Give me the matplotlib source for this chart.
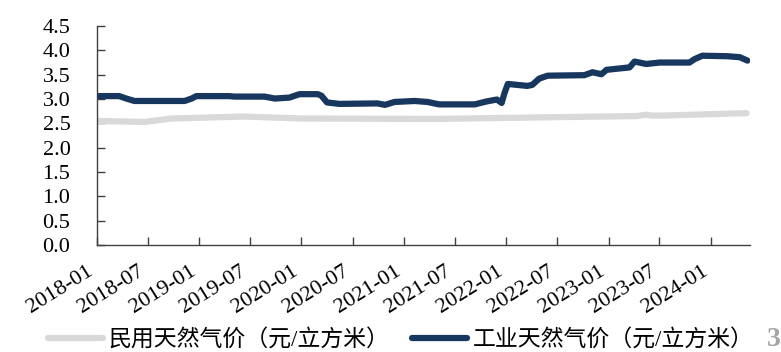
import numpy as np
import pandas as pd
import matplotlib
matplotlib.use('Agg')
import matplotlib.pyplot as plt
import matplotlib.dates as mdates

# 民用天然气价 (residential gas price)
RES_DATES = ['2018-01-01', '2018-06-20', '2018-09-25', '2019-06-10', '2020-01-01',
             '2021-04-20', '2022-03-25', '2023-04-10', '2023-05-18', '2023-05-30',
             '2023-07-12', '2024-05-07']
RES_VALUES = [2.55, 2.53, 2.60, 2.64, 2.60,
              2.59, 2.62, 2.65, 2.68, 2.66,
              2.66, 2.71]

# 工业天然气价 (industrial gas price)
IND_DATES = ['2018-01-01', '2018-03-22', '2018-04-16', '2018-05-15', '2018-11-10',
             '2018-12-05', '2018-12-22', '2019-04-18', '2019-05-06', '2019-08-22',
             '2019-09-28', '2019-11-19', '2019-12-25', '2020-02-28', '2020-03-12',
             '2020-04-01', '2020-05-15', '2020-09-28', '2020-10-25', '2020-11-28',
             '2021-02-08', '2021-03-25', '2021-05-06', '2021-09-10', '2021-10-22',
             '2021-11-28', '2021-12-15', '2021-12-25', '2022-01-06', '2022-03-16',
             '2022-04-03', '2022-04-28', '2022-05-28', '2022-10-06', '2022-11-04',
             '2022-12-06', '2022-12-24', '2023-03-16', '2023-04-03', '2023-05-15',
             '2023-07-01', '2023-10-16', '2023-11-03', '2023-12-01', '2024-02-27',
             '2024-04-12', '2024-05-10']
IND_VALUES = [3.06, 3.06, 3.01, 2.96, 2.96,
              3.01, 3.06, 3.06, 3.05, 3.05,
              3.01, 3.03, 3.10, 3.10, 3.07,
              2.93, 2.90, 2.91, 2.88, 2.94,
              2.96, 2.94, 2.89, 2.89, 2.95,
              2.99, 2.92, 3.12, 3.31, 3.27,
              3.29, 3.42, 3.48, 3.49, 3.55,
              3.51, 3.60, 3.65, 3.77, 3.72,
              3.75, 3.75, 3.82, 3.89, 3.88,
              3.86, 3.79]

SERIES_NAMES = ['民用天然气价（元/立方米）', '工业天然气价（元/立方米）']
COLORS = {'res': '#D9D9D9', 'ind': '#17375E'}
YTICKS = [0.0, 0.5, 1.0, 1.5, 2.0, 2.5, 3.0, 3.5, 4.0, 4.5]

plt.rcParams['font.family'] = ['Liberation Serif', 'Noto Sans CJK SC', 'DejaVu Sans']


def main():
    fig = plt.figure(figsize=(7.81, 3.52), dpi=100)
    ax = fig.add_axes([0.124, 0.304, 0.836, 0.622])

    ax.plot(pd.to_datetime(RES_DATES), RES_VALUES, color=COLORS['res'], linewidth=4.5,
            solid_capstyle='round', solid_joinstyle='round', label=SERIES_NAMES[0])
    ax.plot(pd.to_datetime(IND_DATES), IND_VALUES, color=COLORS['ind'], linewidth=4.5,
            solid_capstyle='round', solid_joinstyle='round', label=SERIES_NAMES[1])

    ax.set_xlim(pd.Timestamp('2018-01-01'), pd.Timestamp('2024-05-18'))
    ax.set_ylim(0, 4.5)
    ax.set_yticks(YTICKS)
    ax.set_yticklabels(['%.1f' % v for v in YTICKS])

    ticks = pd.date_range('2018-01-01', '2024-01-01', freq='6MS')
    ax.set_xticks(ticks)
    ax.set_xticklabels([t.strftime('%Y-%m') for t in ticks], rotation=32, ha='right')

    for s in ['top', 'right']:
        ax.spines[s].set_visible(False)
    for s in ['left', 'bottom']:
        ax.spines[s].set_color('#404040')
        ax.spines[s].set_linewidth(1.0)
    ax.tick_params(axis='both', direction='in', length=6, width=1.0, color='#404040')
    ax.tick_params(axis='y', pad=19, labelsize=16)
    ax.tick_params(axis='x', pad=12, labelsize=16)

    fig.legend(loc='center left', bbox_to_anchor=(0.035, 0.035), ncol=2, frameon=False,
               fontsize=16.5, handlelength=2.4, handletextpad=0.25, columnspacing=1.0)

    fig.text(0.982, 0.035, '3', fontsize=20, fontweight='bold', color='#A6A6A6',
             ha='left', va='center')

    fig.savefig('out.png', dpi=100)


if __name__ == '__main__':
    main()
